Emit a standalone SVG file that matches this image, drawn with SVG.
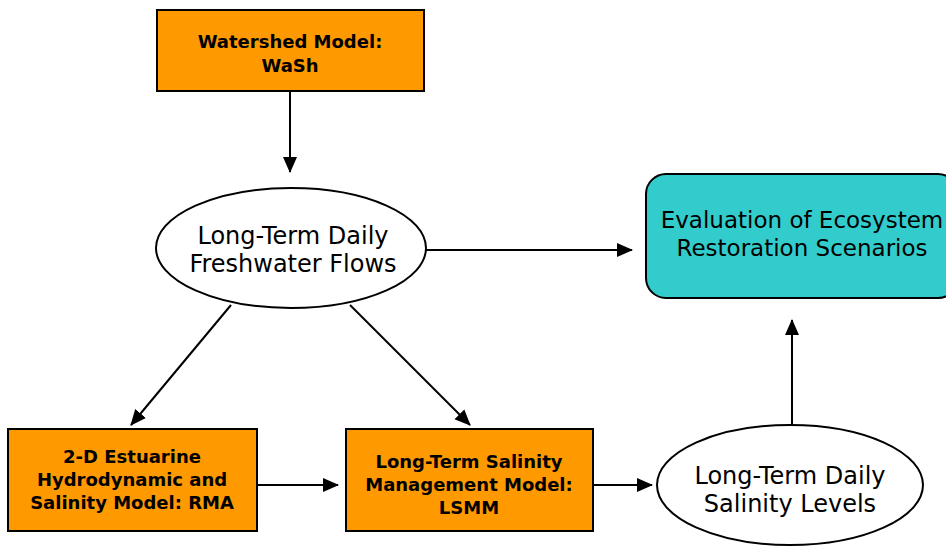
<svg xmlns="http://www.w3.org/2000/svg" width="946" height="546" viewBox="0 0 946 546">
<defs>
<marker id="arr" markerWidth="16" markerHeight="16" refX="15" refY="7" orient="auto" markerUnits="userSpaceOnUse" viewBox="0 0 16 14">
<path d="M0,0 L16,7 L0,14 Z" fill="#000"/>
</marker>
<style>
.box{fill:#FF9900;stroke:#000;stroke-width:2}
.ell{fill:#fff;stroke:#000;stroke-width:2}
.teal{fill:#33CCCC;stroke:#000;stroke-width:2}
.bt{font-family:"DejaVu Sans",Verdana,sans-serif;font-weight:bold;font-size:18px;fill:#000;text-anchor:middle}
.nt{font-family:"DejaVu Sans",Verdana,sans-serif;font-size:24px;fill:#000;text-anchor:middle}
.tt{font-size:23px}
.c{stroke:#000;stroke-width:2;fill:none;marker-end:url(#arr)}
</style>
</defs>
<rect width="946" height="546" fill="#fff"/>
<g id="connectors">
<line class="c" x1="290" y1="92" x2="290" y2="172"/>
<line class="c" x1="426" y1="250" x2="632" y2="250"/>
<line class="c" x1="231" y1="305" x2="131" y2="425"/>
<line class="c" x1="350" y1="305" x2="470" y2="425"/>
<line class="c" x1="257" y1="485" x2="338" y2="485"/>
<line class="c" x1="594" y1="485" x2="652" y2="485"/>
<line class="c" x1="792" y1="424" x2="792" y2="320"/>
</g>
<g id="watershed">
<rect class="box" x="157" y="10" width="267" height="81"/>
<text class="bt" x="290" y="48">Watershed Model:</text>
<text class="bt" x="290" y="72">WaSh</text>
</g>
<g id="freshwater">
<ellipse class="ell" cx="291" cy="248" rx="135" ry="60"/>
<text class="nt" x="293" y="244">Long-Term Daily</text>
<text class="nt" x="293" y="272">Freshwater Flows</text>
</g>
<g id="evaluation">
<rect class="teal" x="646" y="174" width="312" height="124" rx="20" ry="20"/>
<text class="nt tt" x="802" y="228">Evaluation of Ecosystem</text>
<text class="nt tt" x="802" y="256">Restoration Scenarios</text>
</g>
<g id="rma">
<rect class="box" x="8" y="429" width="249" height="102"/>
<text class="bt" x="132" y="463">2-D Estuarine</text>
<text class="bt" x="132" y="486">Hydrodynamic and</text>
<text class="bt" x="132" y="509">Salinity Model: RMA</text>
</g>
<g id="lsmm">
<rect class="box" x="346" y="429" width="247" height="102"/>
<text class="bt" x="469" y="468">Long-Term Salinity</text>
<text class="bt" x="469" y="491">Management Model:</text>
<text class="bt" x="469" y="514">LSMM</text>
</g>
<g id="salinity">
<ellipse class="ell" cx="790" cy="485" rx="133" ry="60"/>
<text class="nt" x="790" y="484">Long-Term Daily</text>
<text class="nt" x="790" y="512">Salinity Levels</text>
</g>
</svg>
